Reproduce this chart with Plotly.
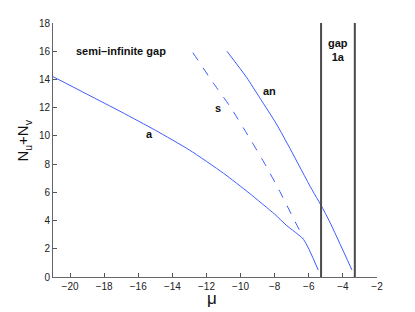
import plotly.graph_objects as go

# curve "a" (solid)
a_mu = [-21.0, -19.0, -17.0, -15.0, -13.0, -11.0, -9.5, -8.0, -7.3, -6.3, -5.45]
a_N = [14.2, 12.95, 11.7, 10.4, 9.0, 7.35, 5.95, 4.45, 3.65, 2.65, 0.5]

# curve "s" (dashed)
s_mu = [-12.8, -11.6, -10.6, -9.35, -8.5, -7.65, -6.9, -6.3]
s_N = [15.9, 13.75, 12.05, 9.6, 7.85, 5.95, 4.15, 2.75]

# curve "an" (solid)
an_mu = [-10.8, -9.65, -8.85, -7.9, -7.1, -5.82, -5.29, -4.75, -3.47]
an_N = [16.0, 14.15, 12.65, 10.85, 9.1, 6.2, 5.1, 3.85, 0.5]

# gap edges
gap_edges = [-5.28, -3.3]

x_ticks = [-20, -18, -16, -14, -12, -10, -8, -6, -4, -2]
y_ticks = [0, 2, 4, 6, 8, 10, 12, 14, 16, 18]

labels = [
    ("semi\u2013infinite gap", -17.0, 16.05),
    ("a", -15.34, 10.1),
    ("s", -11.32, 11.98),
    ("an", -8.28, 13.15),
    ("gap<br>1a", -4.29, 16.1),
]

blue = "#3d5cff"
fig = go.Figure()
fig.add_trace(go.Scatter(x=a_mu, y=a_N, mode="lines", line=dict(color=blue, width=1, shape="spline", smoothing=0.6)))
fig.add_trace(go.Scatter(x=s_mu, y=s_N, mode="lines", line=dict(color=blue, width=1, dash="dash", shape="spline", smoothing=0.6)))
fig.add_trace(go.Scatter(x=an_mu, y=an_N, mode="lines", line=dict(color=blue, width=1, shape="spline", smoothing=0.6)))
for g in gap_edges:
    fig.add_trace(go.Scatter(x=[g, g], y=[0, 18], mode="lines", line=dict(color="#4a4a4a", width=2)))

for txt, x, y in labels:
    fig.add_annotation(x=x, y=y, text="<b>" + txt + "</b>", showarrow=False,
                       font=dict(family="Liberation Sans, Arial", size=11, color="#111"))

# axis titles as annotations for precise placement
fig.add_annotation(xref="paper", yref="paper", x=0.49, y=0, yanchor="middle",
                   yshift=-21, text="\u03bc", showarrow=False,
                   font=dict(family="Liberation Sans, Arial", size=17, color="#111"))
fig.add_annotation(xref="paper", yref="paper", x=0, y=0.537, xanchor="center",
                   xshift=-29, text="N<sub>u</sub>+N<sub>v</sub>", textangle=-90,
                   showarrow=False,
                   font=dict(family="Liberation Sans, Arial", size=15, color="#111"))

# page body has an 8px default margin, so size/margins compensate for it
fig.update_layout(
    width=407, height=304,
    margin=dict(l=45, r=38, t=15, b=35),
    paper_bgcolor="white", plot_bgcolor="white",
    showlegend=False,
    font=dict(family="Liberation Sans, Arial", size=10, color="#222"),
    xaxis=dict(range=[-21, -2], tickvals=x_ticks, ticks="inside", ticklen=4,
               tickcolor="#555", showline=True, linecolor="#666", linewidth=1,
               showgrid=False, zeroline=False, mirror=False, automargin=False),
    yaxis=dict(range=[0, 18], tickvals=y_ticks, ticks="inside", ticklen=4,
               tickcolor="#555", showline=True, linecolor="#666", linewidth=1,
               showgrid=False, zeroline=False, mirror=False, automargin=False),
)

fig.write_html("out.html")
